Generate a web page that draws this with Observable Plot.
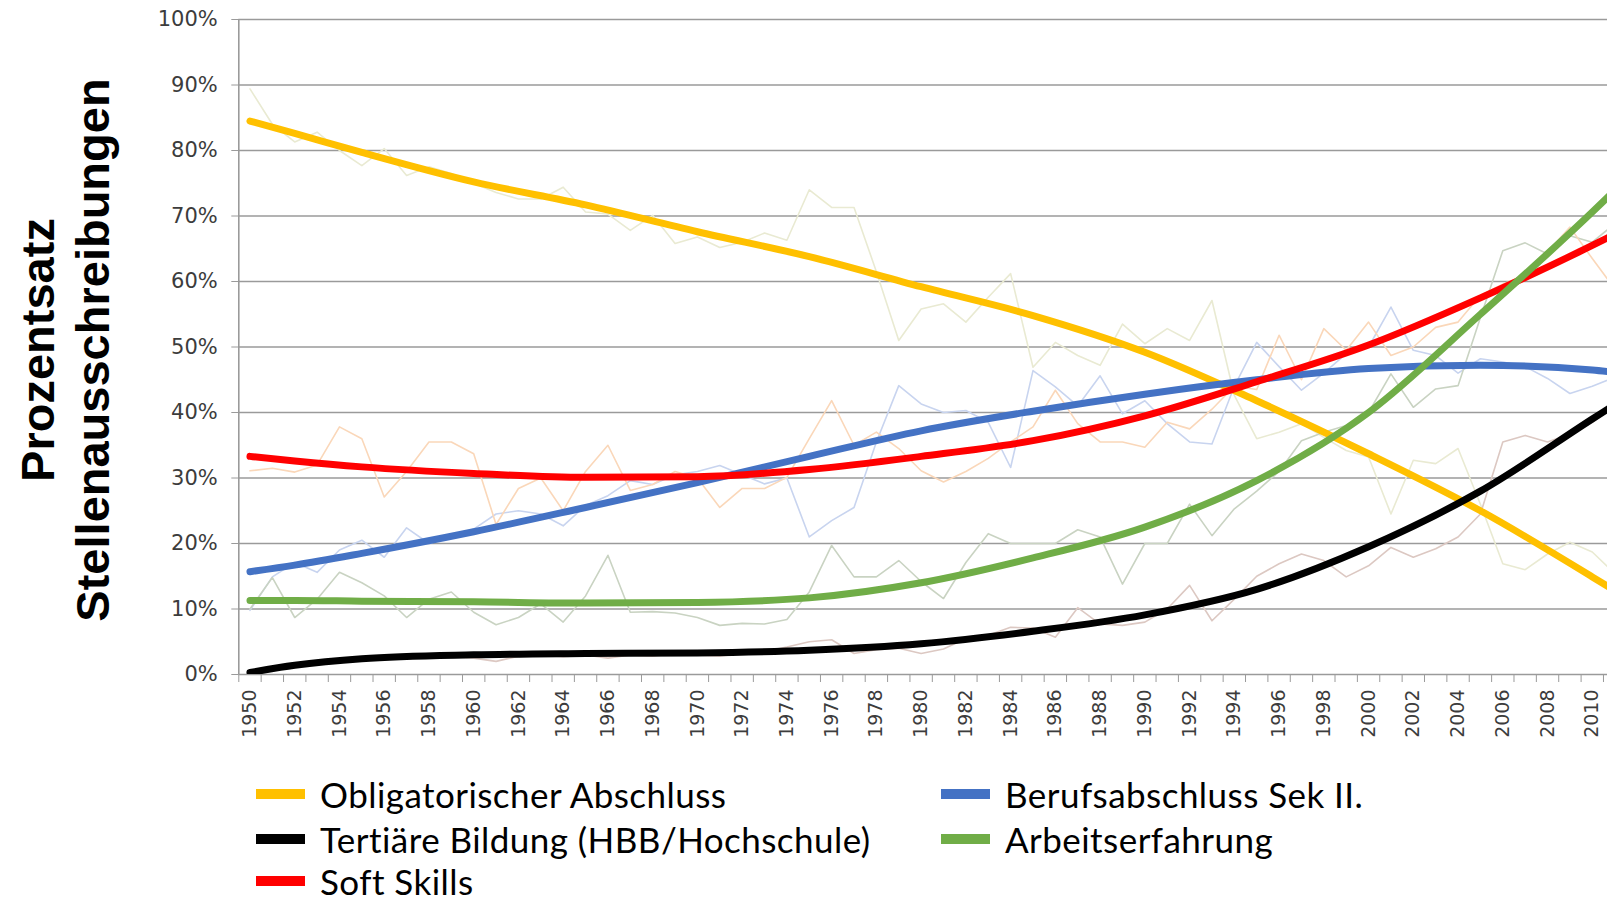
<!DOCTYPE html>
<html><head><meta charset="utf-8">
<script src="https://cdn.jsdelivr.net/npm/d3@7"></script>
<script src="https://cdn.jsdelivr.net/npm/@observablehq/plot@0.6"></script>
<style>
html,body{margin:0;padding:0;background:#fff;overflow:hidden;width:1607px;height:904px}
#chart{position:absolute;left:0;top:0}
#chart svg{max-width:none}
#legend{position:absolute;left:0;top:0;width:1607px;height:904px;font-family:Lato,"Open Sans",sans-serif;font-size:35px;letter-spacing:0.45px;line-height:34px;color:#000}
.item{position:absolute;display:flex;align-items:center;height:34px;white-space:nowrap}
.sw{width:49px;height:10px;margin-right:15px;flex:none}
</style></head><body>
<div id="chart"></div><div id="legend"></div>
<script>
// ---- data (values are shares, 0..1) ----
const years = d3.range(1950, 2012);
const seriesNames = ["Obligatorischer Abschluss","Berufsabschluss Sek II.","Tertiäre Bildung (HBB/Hochschule)","Arbeitserfahrung","Soft Skills"];
const trendColors = ["#FFC000","#4472C4","#000000","#70AD47","#FF0000"];
const rawColors   = ["#e9ead2","#c8d4ef","#dcc8c2","#c9d3c2","#fad7b9"];

const rawObligatorisch = [
 .894,.84,.813,.828,.80,.777,.803,.762,.775,.765,
 .75,.736,.726,.726,.744,.706,.703,.678,.701,.658,
 .668,.652,.66,.674,.663,.74,.713,.713,.615,.51,
 .558,.566,.538,.576,.612,.469,.507,.487,.472,.535,
 .505,.528,.51,.571,.426,.36,.37,.383,.362,.342,
 .332,.245,.327,.322,.345,.26,.169,.16,.184,.202,
 .187,.154];
const rawBeruf = [
 .098,.149,.171,.156,.19,.205,.179,.224,.20,.21,
 .222,.245,.25,.245,.227,.258,.273,.296,.29,.305,
 .31,.319,.305,.291,.30,.21,.235,.255,.355,.441,
 .413,.40,.403,.385,.316,.464,.439,.41,.456,.398,
 .418,.383,.355,.352,.44,.507,.47,.434,.46,.49,
 .50,.561,.495,.487,.46,.482,.477,.47,.452,.429,
 .44,.454];
const rawTertiaer = [
 .005,.01,.012,.015,.02,.022,.025,.024,.026,.028,
 .025,.02,.028,.03,.027,.03,.025,.03,.028,.032,
 .03,.028,.032,.035,.042,.05,.053,.032,.038,.04,
 .032,.039,.055,.06,.072,.071,.057,.102,.077,.075,
 .08,.10,.136,.082,.115,.15,.169,.184,.174,.149,
 .166,.194,.179,.192,.21,.245,.355,.365,.355,.367,
 .385,.41];
const rawArbeit = [
 .10,.148,.087,.115,.156,.14,.12,.087,.115,.126,
 .095,.076,.087,.108,.08,.12,.182,.095,.096,.094,
 .087,.075,.078,.077,.084,.126,.197,.149,.149,.174,
 .142,.116,.171,.215,.2,.2,.2,.221,.21,.138,
 .2,.2,.26,.212,.253,.28,.31,.357,.37,.38,
 .40,.459,.408,.436,.441,.545,.647,.659,.642,.67,
 .66,.688];
const rawSoft = [
 .311,.315,.309,.32,.378,.36,.271,.31,.355,.355,
 .337,.229,.284,.30,.25,.31,.35,.281,.29,.31,
 .30,.255,.284,.284,.301,.36,.418,.35,.37,.345,
 .311,.294,.31,.33,.355,.378,.434,.383,.355,.355,
 .347,.385,.375,.405,.44,.435,.518,.45,.528,.495,
 .538,.487,.50,.53,.538,.579,.596,.609,.645,.683,
 .635,.589];

// trend lines
const trendYears = [1950,1952,1955,1960,1965,1970,1975,1980,1985,1990,1995,2000,2005,2010,2011];
const trendObligatorisch = [.845,.826,.797,.752,.717,.676,.638,.592,.548,.492,.418,.337,.25,.149,.128];
const trendBeruf         = [.157,.167,.185,.218,.255,.293,.333,.372,.402,.428,.450,.467,.472,.465,.461];
const trendTertiaer      = [.003,.014,.024,.030,.032,.033,.037,.047,.066,.091,.13,.195,.28,.39,.412];
const trendArbeit        = [.113,.113,.112,.111,.109,.11,.117,.14,.178,.225,.296,.40,.55,.706,.739];
const trendSoft          = [.333,.326,.317,.307,.301,.302,.313,.333,.357,.395,.447,.503,.575,.655,.672];

const yTicks = d3.range(0, 11).map(k => k / 10);
const labelYears = d3.range(1950, 2011, 2);
const tickBounds = d3.range(1949.5, 2011, 1);

const raws = [rawObligatorisch, rawBeruf, rawTertiaer, rawArbeit, rawSoft];
const trends = [trendObligatorisch, trendBeruf, trendTertiaer, trendArbeit, trendSoft];
const drawOrder = [0, 1, 2, 4, 3];

const gray = "#9a9a9a";
const marks = [
  Plot.gridY({ticks: yTicks.slice(1), stroke: gray, strokeOpacity: 1, strokeWidth: 1.6}),
  Plot.ruleX([1949.5], {stroke: gray, strokeWidth: 1.6}),
  Plot.ruleY([0], {stroke: gray, strokeWidth: 1.6}),
  Plot.axisY({ticks: yTicks, tickFormat: d3.format(".0%"), tickSize: 7, tickPadding: 14, stroke: gray, fill: "#3c3c3c", fontSize: 21}),
  Plot.axisX({ticks: tickBounds, tickSize: 8, tickFormat: () => "", stroke: gray}),
  Plot.axisX({ticks: labelYears, tickSize: 0, tickRotate: -90, tickPadding: 15, tickFormat: d => String(d), fill: "#3c3c3c", fontSize: 19}),
];
raws.forEach((r, i) => {
  marks.push(Plot.line(r, {x: years, y: r, stroke: rawColors[i], strokeWidth: 1.6, clip: true}));
});
drawOrder.forEach(i => {
  const t = trends[i];
  marks.push(Plot.line(t, {x: trendYears, y: t, stroke: trendColors[i], strokeWidth: 7, curve: "monotone-x", strokeLinecap: "round", clip: true}));
});
marks.push(
  Plot.text(["Prozentsatz"], {frameAnchor: "left", text: d => d, rotate: -90, textAnchor: "middle", lineAnchor: "bottom", dx: -185, dy: 3, fontSize: 47, fontWeight: "bold", fontFamily: "Liberation Sans, Arial, sans-serif", fill: "#000"}),
  Plot.text(["Stellenausschreibungen"], {frameAnchor: "left", text: d => d, rotate: -90, textAnchor: "middle", lineAnchor: "bottom", dx: -130, dy: 3, fontSize: 47, fontWeight: "bold", fontFamily: "Liberation Sans, Arial, sans-serif", fill: "#000"})
);

const chart = Plot.plot({
  width: 1607, height: 760,
  marginLeft: 238.3, marginRight: 0, marginTop: 19, marginBottom: 86,
  style: {fontFamily: "DejaVu Sans, Verdana, sans-serif", background: "#fff", overflow: "hidden"},
  x: {type: "linear", domain: [1949.5, 2010.68], axis: null},
  y: {domain: [0, 1], axis: null},
  marks
});
document.getElementById("chart").appendChild(chart);

// legend
const legendLayout = [
  {i: 0, left: 256, cy: 794},
  {i: 1, left: 941, cy: 794},
  {i: 2, left: 256, cy: 839},
  {i: 3, left: 941, cy: 839},
  {i: 4, left: 256, cy: 881}
];
const leg = document.getElementById("legend");
legendLayout.forEach(({i, left, cy}) => {
  const d = document.createElement("div");
  d.className = "item";
  d.style.left = left + "px";
  d.style.top = (cy - 17) + "px";
  const sw = document.createElement("span");
  sw.className = "sw";
  sw.style.background = trendColors[i];
  const tx = document.createElement("span");
  tx.textContent = seriesNames[i];
  d.appendChild(sw); d.appendChild(tx);
  leg.appendChild(d);
});
</script>
</body></html>
